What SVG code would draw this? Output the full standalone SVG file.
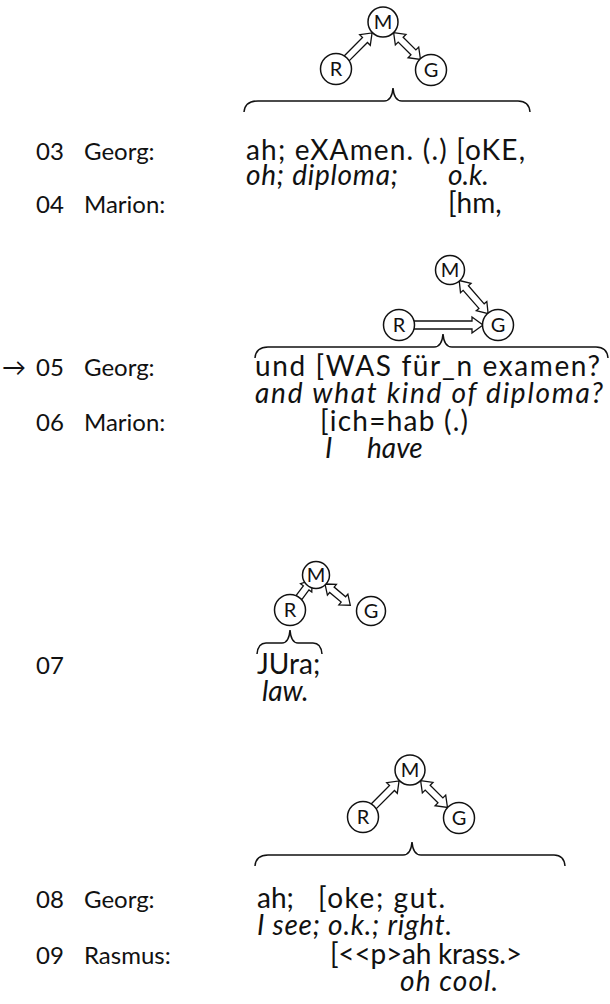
<svg xmlns="http://www.w3.org/2000/svg" width="610" height="1004" viewBox="0 0 610 1004">
<style>
.s{font-family:Lato,"Open Sans","Liberation Sans",sans-serif;font-size:24px;fill:#111}
.t{font-family:Lato,"Open Sans","Liberation Sans",sans-serif;font-size:28px;fill:#111}
.i{font-style:italic;font-size:28px}
.c{fill:#fff;stroke:#111;stroke-width:1.5}
.cl{font-family:Lato,"Open Sans","Liberation Sans",sans-serif;font-size:20px;fill:#111;text-anchor:middle}
.a{fill:#fff;stroke:#111;stroke-width:1.3;stroke-linejoin:miter}
.b{fill:none;stroke:#111;stroke-width:1.5}
</style>
<g id="connectors">
<polygon class="a" transform="translate(346.6,58.4) rotate(-45)" points="0,-3.5 26,-3.5 26,-7.5 36,0 26,7.5 26,3.5 0,3.5"/>
<polygon class="a" transform="translate(393.6,32.6) rotate(45)" points="0,0 10,-7.5 10,-3.5 28,-3.5 28,-7.5 38,0 28,7.5 28,3.5 10,3.5 10,7.5"/>
<polygon class="a" transform="translate(414,325)" points="0,-4 58,-4 58,-8 69,0 58,8 58,4 0,4"/>
<polygon class="a" transform="translate(459.2,280.5) rotate(48.9)" points="0,0 10,-7 10,-3.5 34,-3.5 34,-7 44,0 34,7 34,3.5 10,3.5 10,7"/>
<polygon class="a" transform="translate(299,597.5) rotate(-53.4)" points="0,-3.5 12,-3.5 12,-7 22,0 12,7 12,3.5 0,3.5"/>
<polygon class="a" transform="translate(325,584) rotate(40)" points="0,0 9,-7 9,-3.5 24,-3.5 24,-7 33,0 24,7 24,3.5 9,3.5 9,7"/>
<polygon class="a" transform="translate(373.6,806.4) rotate(-45)" points="0,-3.5 26,-3.5 26,-7.5 36,0 26,7.5 26,3.5 0,3.5"/>
<polygon class="a" transform="translate(420.6,780.6) rotate(45)" points="0,0 10,-7.5 10,-3.5 28,-3.5 28,-7.5 38,0 28,7.5 28,3.5 10,3.5 10,7.5"/>
</g>
<g id="braces">
<path class="b" d="M244,112 Q245,101 258,101 L384,101 Q392,101 393,88 Q394,101 402,101 L518,101 Q529,101 530,112"/>
<path class="b" d="M255,358 Q256,347 268,347 L434,347 Q442,347 443,334 Q444,347 452,347 L596,347 Q607,347 608,358"/>
<path class="b" d="M257,654 Q258,643 266,643 L282,643 Q289,643 290,630 Q291,643 298,643 L313,643 Q321,643 322,654"/>
<path class="b" d="M255,866 Q256,855 268,855 L403,855 Q411,855 412,842 Q413,855 421,855 L554,855 Q564,855 565,866"/>
</g>
<g id="node-M1"><circle class="c" cx="383" cy="22" r="15"/><text class="cl" x="383" y="29">M</text></g>
<g id="node-R1"><circle class="c" cx="336" cy="69" r="15.5"/><text class="cl" x="336" y="76">R</text></g>
<g id="node-G1"><circle class="c" cx="431" cy="70" r="15.5"/><text class="cl" x="431" y="77">G</text></g>
<g id="node-M2"><circle class="c" cx="450" cy="270" r="14.5"/><text class="cl" x="450" y="277">M</text></g>
<g id="node-R2"><circle class="c" cx="399" cy="325" r="15.5"/><text class="cl" x="399" y="332">R</text></g>
<g id="node-G2"><circle class="c" cx="498" cy="325" r="15.5"/><text class="cl" x="498" y="332">G</text></g>
<g id="node-M3"><circle class="c" cx="316" cy="575" r="13.5"/><text class="cl" x="316" y="582">M</text></g>
<g id="node-R3"><circle class="c" cx="290" cy="610" r="15.5"/><text class="cl" x="290" y="617">R</text></g>
<g id="node-G3"><circle class="c" cx="371" cy="611" r="14.5"/><text class="cl" x="371" y="618">G</text></g>
<g id="node-M4"><circle class="c" cx="410" cy="770" r="15"/><text class="cl" x="410" y="777">M</text></g>
<g id="node-R4"><circle class="c" cx="363" cy="817" r="15.5"/><text class="cl" x="363" y="824">R</text></g>
<g id="node-G4"><circle class="c" cx="459" cy="818" r="15.5"/><text class="cl" x="459" y="825">G</text></g>
<g id="transcript">
<text class="s" x="36" y="160">03</text><text class="s" x="84" y="160">Georg:</text>
<text class="t" x="246" y="160" textLength="279">ah; eXAmen. (.) [oKE,</text>
<text class="t i" x="246" y="185" textLength="152">oh; diploma;</text><text class="t i" x="448" y="185">o.k.</text>
<text class="s" x="36" y="213">04</text><text class="s" x="84" y="213">Marion:</text>
<text class="t" x="448" y="213">[hm,</text>
<text class="s" x="2" y="376">→</text><text class="s" x="36" y="376">05</text><text class="s" x="84" y="376">Georg:</text>
<text class="t" x="255" y="376" textLength="345">und [WAS für_n examen?</text>
<text class="t i" x="255" y="403" textLength="348">and what kind of diploma?</text>
<text class="s" x="36" y="431">06</text><text class="s" x="84" y="431">Marion:</text>
<text class="t" x="320" y="431" textLength="148">[ich=hab (.)</text>
<text class="t i" x="325" y="458">I</text><text class="t i" x="367" y="458">have</text>
<text class="s" x="36" y="674">07</text>
<text class="t" x="257" y="674">JUra;</text>
<text class="t i" x="262" y="701">law.</text>
<text class="s" x="36" y="908">08</text><text class="s" x="84" y="908">Georg:</text>
<text class="t" x="257" y="908">ah;</text><text class="t" x="318" y="908" textLength="127">[oke; gut.</text>
<text class="t i" x="257" y="935" textLength="195">I see; o.k.; right.</text>
<text class="s" x="36" y="964">09</text><text class="s" x="84" y="964">Rasmus:</text>
<text class="t" x="330" y="964" textLength="192">[&lt;&lt;p&gt;ah krass.&gt;</text>
<text class="t i" x="400" y="991" textLength="98">oh cool.</text>
</g>
</svg>
